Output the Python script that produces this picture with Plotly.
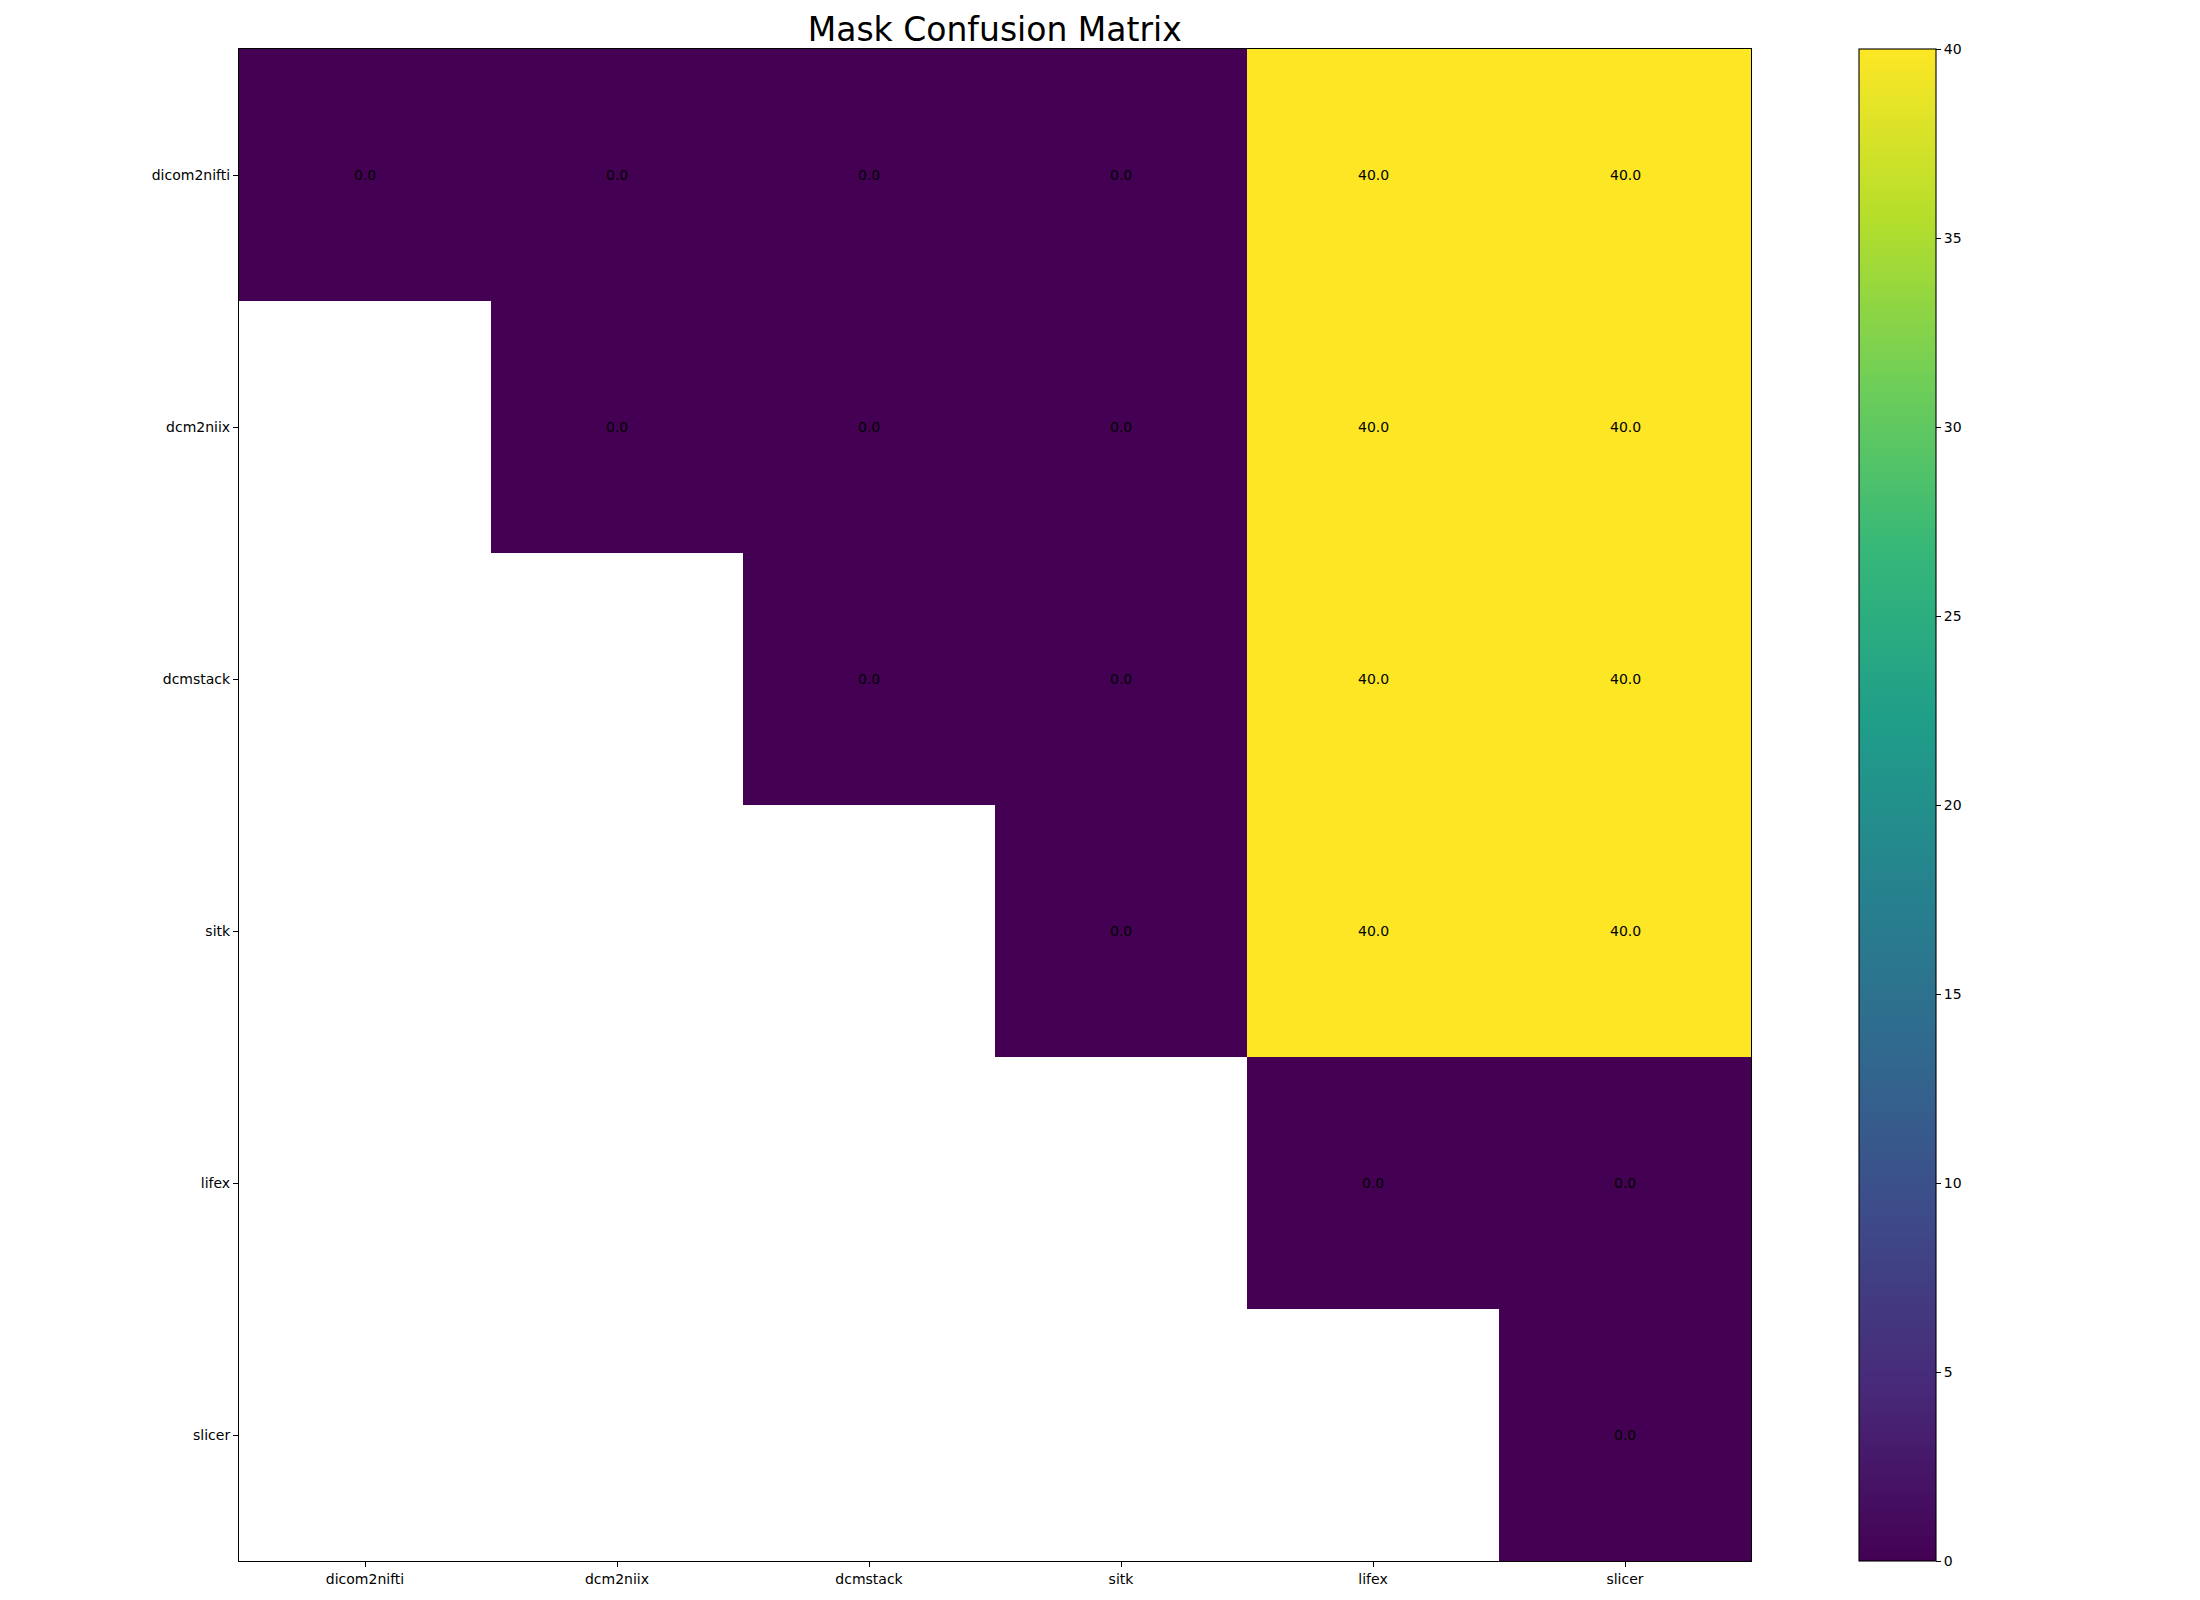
import plotly.graph_objects as go

labels = ["dicom2nifti", "dcm2niix", "dcmstack", "sitk", "lifex", "slicer"]
row_dicom2nifti = [0.0, 0.0, 0.0, 0.0, 40.0, 40.0]
row_dcm2niix = [None, 0.0, 0.0, 0.0, 40.0, 40.0]
row_dcmstack = [None, None, 0.0, 0.0, 40.0, 40.0]
row_sitk = [None, None, None, 0.0, 40.0, 40.0]
row_lifex = [None, None, None, None, 0.0, 0.0]
row_slicer = [None, None, None, None, None, 0.0]
matrix = [row_dicom2nifti, row_dcm2niix, row_dcmstack, row_sitk, row_lifex, row_slicer]
cbar_ticks = [0, 5, 10, 15, 20, 25, 30, 35, 40]

W, H = 2200, 1600
L, R, T, B = 238.5, 1751, 49, 1561
FONT = "DejaVu Sans"

fig = go.Figure()
fig.add_trace(go.Heatmap(
    z=matrix, x=labels, y=labels,
    colorscale="Viridis", zmin=0, zmax=40,
    hoverongaps=False,
    colorbar=dict(
        x=(1859 - L) / (R - L), xanchor="left", xref="paper",
        y=0.5, yanchor="middle", len=1, lenmode="fraction",
        thickness=77, thicknessmode="pixels",
        xpad=0, ypad=0,
        outlinewidth=1.1, outlinecolor="black",
        tickvals=cbar_ticks, ticks="outside", ticklen=5, tickwidth=1.1,
        tickcolor="black",
        tickfont=dict(family=FONT, size=14, color="black"),
    ),
))

annotations = []
for i, row in enumerate(matrix):
    for j, v in enumerate(row):
        if v is None:
            continue
        annotations.append(dict(
            x=labels[j], y=labels[i], xref="x", yref="y",
            text=f"{v:.1f}", showarrow=False,
            font=dict(family=FONT, size=14, color="black"),
        ))

fig.update_layout(
    width=W, height=H,
    margin=dict(l=L, r=W - R, t=T, b=H - B, pad=0),
    paper_bgcolor="white", plot_bgcolor="white",
    font=dict(family=FONT, size=14, color="black"),
    title=dict(text="Mask Confusion Matrix", x=(L + R) / 2 / W, xanchor="center",
               xref="container", yref="container", y=1 - 29.5 / H, yanchor="middle",
               font=dict(family=FONT, size=33, color="black")),
    annotations=annotations,
    showlegend=False,
)
fig.update_xaxes(
    type="category", categoryorder="array", categoryarray=labels,
    range=[-0.5, 5.5], showgrid=False, zeroline=False,
    showline=True, linecolor="black", linewidth=1.1, mirror=True,
    ticks="outside", ticklen=5, tickwidth=1.1, tickcolor="black",
    tickfont=dict(family=FONT, size=14, color="black"),
)
fig.update_yaxes(
    type="category", categoryorder="array", categoryarray=labels,
    range=[5.5, -0.5], showgrid=False, zeroline=False,
    showline=True, linecolor="black", linewidth=1.1, mirror=True,
    ticks="outside", ticklen=5, tickwidth=1.1, tickcolor="black",
    tickfont=dict(family=FONT, size=14, color="black"),
)

fig.write_html("out.html")
